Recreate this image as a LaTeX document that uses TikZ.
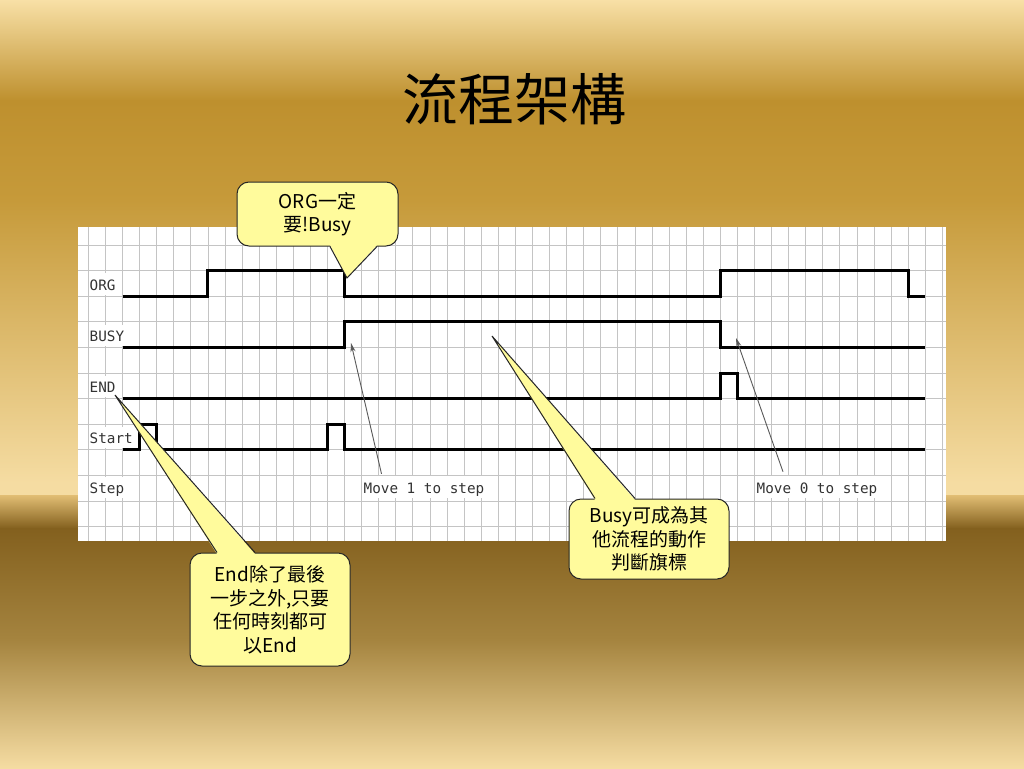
\documentclass[tikz,border=0pt]{standalone}
\usepackage{fontspec}
\newfontfamily\cjk{Noto Sans CJK TC}
\newfontfamily\sigfont{DejaVu Sans Mono}
\usetikzlibrary{arrows.meta}
\definecolor{bgcream}{HTML}{F8E0A6}
\definecolor{bggold}{HTML}{BE902E}
\definecolor{bgmid}{HTML}{C69A3A}
\definecolor{bglight}{HTML}{F5DCA2}
\definecolor{bgband}{HTML}{E2BE74}
\definecolor{bgbrown}{HTML}{83601E}
\definecolor{bgdusk}{HTML}{A5843F}
\definecolor{gridgray}{HTML}{C4C4C4}
\definecolor{noteyellow}{HTML}{FFFB9C}

\begin{document}
\begin{tikzpicture}[x=1pt,y=-1pt,
  gridline/.style={gridgray,line width=0.9pt},
  wave/.style={black,line width=3pt},
  sig/.style={anchor=base west,inner sep=0pt,fill=white,text height=17pt,text depth=4.5pt,
    font=\sigfont\fontsize{14.3}{16}\selectfont,text=black!80},
  note/.style={draw=black!85,line width=1pt,fill=noteyellow,rounded corners=12pt,
    align=center,inner sep=0pt,font=\cjk\fontsize{19}{23.5}\selectfont},
  notetip/.style={draw=black!85,line width=1pt,line join=miter},
  pointer/.style={black!65,line width=0.9pt,-{Stealth[length=9pt,width=5pt]}}]

\useasboundingbox (0,0) rectangle (1024,768);
% background
\fill[top color=bgcream,bottom color=bggold] (0,0) rectangle (1024,100.5);
\fill[top color=bggold,bottom color=bgmid] (0,100) rectangle (1024,200.5);
\fill[top color=bgmid,bottom color=bglight] (0,200) rectangle (1024,482.5);
\fill[bglight] (0,482) rectangle (1024,495.5);
\fill[top color=bgband,bottom color=bgbrown] (0,495) rectangle (1024,528.5);
\fill[top color=bgbrown,bottom color=bgdusk] (0,528) rectangle (1024,640.5);
\fill[top color=bgdusk,bottom color=bglight] (0,640) rectangle (1024,768);

\node[font=\cjk\fontsize{56}{60}\selectfont] (title) at (514,99) {流程架構};

\fill[white] (78,227) rectangle (946,541);

\begin{scope}[shift={(88.4,245)},x=17.08pt,y=-25.6pt]
\foreach \k in {0,...,50}
	\draw[gridline] (\k,-0.7) -- (\k,11.56);
\foreach \r in {0,...,11}
	\draw[gridline] (-0.61,\r) -- (50.2,\r);

\draw[wave] (2,2) -- (7,2) -- (7,1) -- (15,1) -- (15,2) -- (37,2) -- (37,1) -- (48,1) -- (48,2) -- (49,2);
\draw[wave] (2,4) -- (15,4) -- (15,3) -- (37,3) -- (37,4) -- (49,4);
\draw[wave] (2,6) -- (37,6) -- (37,5) -- (38,5) -- (38,6) -- (49,6);
\draw[wave] (2,8) -- (3,8) -- (3,7) -- (4,7) -- (4,8) -- (14,8) -- (14,7) -- (15,7) -- (15,8) -- (49,8);
\end{scope}

\node[sig] (lorg) at (89.5,290) {ORG};
\node[sig] (lbusy) at (89.5,341.5) {BUSY};
\node[sig] (lend) at (89.5,392.5) {END};
\node[sig] (lstart) at (89.5,443.5) {Start};
\node[sig] (lstep) at (89.5,493.5) {Step};
\node[sig] (mv1) at (363.5,493) {Move 1 to step};
\node[sig] (mv0) at (756.5,493) {Move 0 to step};

\coordinate (busyup) at (351,343);
\coordinate (busydn) at (736,338);
\draw[pointer] ([xshift=18pt,yshift=2pt]mv1.north west) -- (busyup);
\draw[pointer] ([xshift=26.5pt,yshift=4pt]mv0.north west) -- (busydn);

% callouts
\node[note,minimum width=161pt,minimum height=64pt] (corg) at (317.5,214) {ORG一定\\要!Busy};
\node[note,minimum width=160pt,minimum height=80pt] (cbusy) at (649,539) {Busy可成為其\\他流程的動作\\判斷旗標};
\node[note,minimum width=160pt,minimum height=113pt] (cend) at (270,609.5) {End除了最後\\一步之外,只要\\任何時刻都可\\以End};

\coordinate (porg) at (347,278);
\coordinate (pbusy) at (492,336);
\coordinate (pend) at (115,395);

\fill[noteyellow] ([xshift=12.5pt,yshift=1.5pt]corg.south) -- (porg) -- ([xshift=59.5pt,yshift=1.5pt]corg.south) -- cycle;
\draw[notetip] ([xshift=12.5pt]corg.south) -- (porg) -- ([xshift=59.5pt]corg.south);
\fill[noteyellow] ([xshift=-54pt,yshift=-1.5pt]cbusy.north) -- (pbusy) -- ([xshift=-14pt,yshift=-1.5pt]cbusy.north) -- cycle;
\draw[notetip] ([xshift=-54pt]cbusy.north) -- (pbusy) -- ([xshift=-14pt]cbusy.north);
\fill[noteyellow] ([xshift=-53pt,yshift=-1.5pt]cend.north) -- (pend) -- ([xshift=-15pt,yshift=-1.5pt]cend.north) -- cycle;
\draw[notetip] ([xshift=-53pt]cend.north) -- (pend) -- ([xshift=-15pt]cend.north);
\end{tikzpicture}
\end{document}
